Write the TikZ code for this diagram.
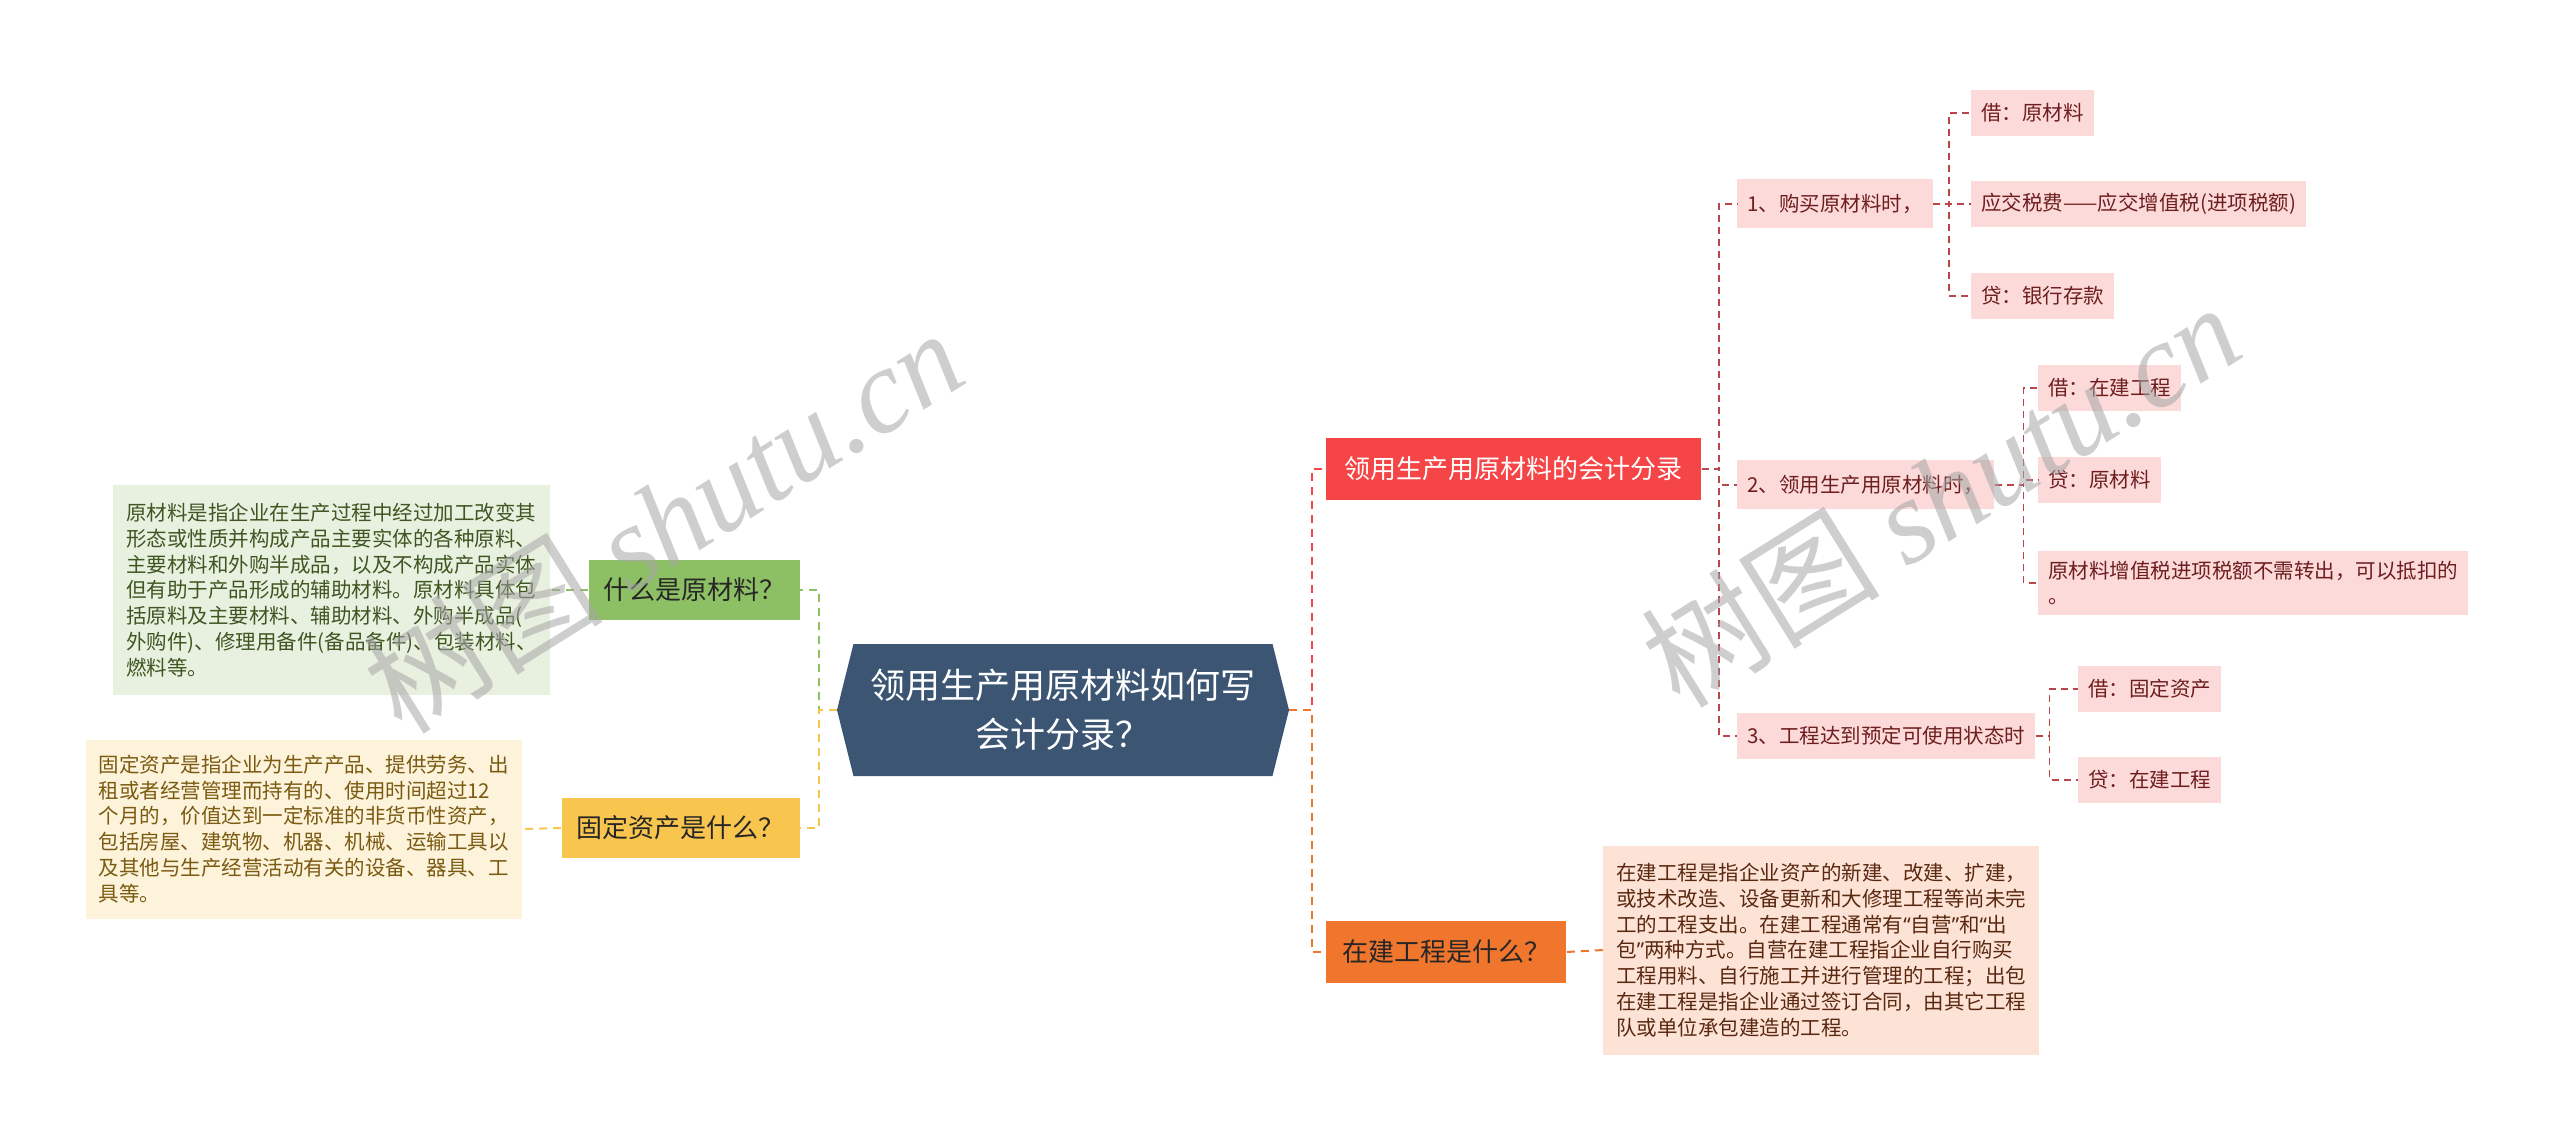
\documentclass[tikz,border=0pt]{standalone}
\usepackage{fontspec}
\setmainfont{Noto Sans CJK SC}
\newfontfamily\wmfont{Liberation Serif}
\newfontfamily\quotefont{Noto Sans}
\usetikzlibrary{shapes.symbols}

\definecolor{rootblue}{HTML}{3B5573}
\definecolor{qgreen}{HTML}{8DBF64}
\definecolor{dgreen}{HTML}{E8F1E0}
\definecolor{tgreen}{HTML}{3F5622}
\definecolor{qyellow}{HTML}{F8C64E}
\definecolor{dyellow}{HTML}{FDF3DB}
\definecolor{tyellow}{HTML}{7A5A10}
\definecolor{qred}{HTML}{F54546}
\definecolor{qorange}{HTML}{F0752D}
\definecolor{dorange}{HTML}{FCE3D6}
\definecolor{torange}{HTML}{5A2810}
\definecolor{pinkbox}{HTML}{FCDADA}
\definecolor{tpink}{HTML}{6E1E1E}
\definecolor{lkred}{HTML}{B8464B}

\tikzset{
	qbox/.style={inner xsep=7pt, inner ysep=0pt, minimum height=30pt, font=\fontsize{13pt}{16pt}\selectfont},
	descbox/.style={inner xsep=6.5pt, inner ysep=6pt, align=left, font=\fontsize{10.25pt}{12.9pt}\selectfont},
	pinkbox/.style={fill=pinkbox, text=tpink, inner xsep=5pt, inner ysep=0pt, minimum height=23pt, align=left, font=\fontsize{10.25pt}{12.9pt}\selectfont},
	lk/.style={line width=1pt, dash pattern=on 4pt off 3pt},
	sublk/.style={lkred, line width=0.75pt, dash pattern=on 3.5pt off 2.5pt},
	wmark/.style={rotate=32, text=black!35, opacity=0.55, font=\fontsize{60pt}{60pt}\selectfont}
}

\begin{document}
\begin{tikzpicture}[x=0.5pt, y=-0.5pt]
			%%%%% START %%%%%
			\useasboundingbox[fill=white] (0, 0) rectangle (2560, 1144);
			
			\node[shape=signal, signal to=west and east, signal pointer angle=152, fill=rootblue, text=white, minimum width=226pt, minimum height=66pt, inner sep=0pt, align=center, font=\fontsize{17.5pt}{24.5pt}\selectfont] (root) at (1063, 710) {领用生产用原材料如何写\\会计分录？};
			
			% left side
			\node[qbox, fill=qgreen, text=black!85, minimum width=105.5pt, anchor=east] (whatq) at (800, 590) {什么是原材料？};
			\node[descbox, fill=dgreen, text=tgreen, anchor=east, minimum height=104.5pt] (whatd) at (550, 590) {原材料是指企业在生产过程中经过加工改变其\\形态或性质并构成产品主要实体的各种原料、\\主要材料和外购半成品，以及不构成产品实体\\但有助于产品形成的辅助材料。原材料具体包\\括原料及主要材料、辅助材料、外购半成品(\\外购件)、修理用备件(备品备件)、包装材料、\\燃料等。};
			
			\node[qbox, fill=qyellow, text=black!85, minimum width=119pt, anchor=east] (fixq) at (800, 828) {固定资产是什么？};
			\node[descbox, fill=dyellow, text=tyellow, anchor=east, minimum height=89.5pt] (fixd) at (522, 829) {固定资产是指企业为生产产品、提供劳务、出\\租或者经营管理而持有的、使用时间超过12\\个月的，价值达到一定标准的非货币性资产，\\包括房屋、建筑物、机器、机械、运输工具以\\及其他与生产经营活动有关的设备、器具、工\\具等。};
			
			\draw[lk, qgreen] (root.west) -- ++(-9pt, 0) |- (whatq.east);
			\draw[lk, qyellow] (root.west) -- ++(-9pt, 0) |- (fixq.east);
			\draw[lk, qgreen] (whatq.west) -- (whatd.east);
			\draw[lk, qyellow] (fixq.west) -- (fixd.east);
			
			% right side
			\node[qbox, fill=qred, text=white, minimum width=187.5pt, minimum height=31pt, anchor=west] (entry) at (1326, 469) {领用生产用原材料的会计分录};
			\node[qbox, fill=qorange, text=black!85, minimum width=120pt, minimum height=31pt, anchor=west] (cipq) at (1326, 952) {在建工程是什么？};
			\node[descbox, fill=dorange, text=torange, anchor=west, minimum height=104.5pt] (cipd) at (1603, 950) {在建工程是指企业资产的新建、改建、扩建，\\或技术改造、设备更新和大修理工程等尚未完\\工的工程支出。在建工程通常有{\quotefont “}自营{\quotefont ”}和{\quotefont “}出\\包{\quotefont ”}两种方式。自营在建工程指企业自行购买\\工程用料、自行施工并进行管理的工程；出包\\在建工程是指企业通过签订合同，由其它工程\\队或单位承包建造的工程。};
			
			\draw[lk, qred] (root.east) -- ++(11.5pt, 0) |- (entry.west);
			\draw[lk, qorange] (root.east) -- ++(11.5pt, 0) |- (cipq.west);
			\draw[lk, qorange] (cipq.east) -- (cipd.west);
			
			\node[pinkbox, minimum height=24.5pt, anchor=west] (buy) at (1737, 204) {1、购买原材料时，};
			\node[pinkbox, minimum height=24.5pt, anchor=west] (use) at (1737, 485) {2、领用生产用原材料时，};
			\node[pinkbox, anchor=west] (done) at (1737, 736) {3、工程达到预定可使用状态时};
			
			\draw[sublk] (entry.east) -- ++(8.5pt, 0) |- (buy.west);
			\draw[sublk] (entry.east) -- ++(8.5pt, 0) |- (use.west);
			\draw[sublk] (entry.east) -- ++(8.5pt, 0) |- (done.west);
			
			\node[pinkbox, anchor=west] (buya) at (1971, 113) {借：原材料};
			\node[pinkbox, anchor=west] (buyb) at (1971, 204) {应交税费——应交增值税(进项税额)};
			\node[pinkbox, anchor=west] (buyc) at (1971, 296) {贷：银行存款};
			\foreach \n in {buya, buyb, buyc}
				\draw[sublk] (buy.east) -- ++(8pt, 0) |- (\n.west);
			
			\node[pinkbox, anchor=west] (usea) at (2038, 388) {借：在建工程};
			\node[pinkbox, anchor=west] (useb) at (2038, 480) {贷：原材料};
			\node[pinkbox, anchor=west, inner ysep=5pt] (usec) at (2038, 583) {原材料增值税进项税额不需转出，可以抵扣的\\。};
			\foreach \n in {usea, useb, usec}
				\draw[sublk] (use.east) -- ++(14.5pt, 0) |- (\n.west);
			
			\node[pinkbox, anchor=west] (donea) at (2078, 689) {借：固定资产};
			\node[pinkbox, anchor=west] (doneb) at (2078, 780) {贷：在建工程};
			\foreach \n in {donea, doneb}
				\draw[sublk] (done.east) -- ++(7pt, 0) |- (\n.west);
			
			% watermarks
			\node[wmark] (wmleft) at (663, 520) {树图 {\wmfont\itshape shutu.cn}};
			\node[wmark] (wmright) at (1940, 494) {树图 {\wmfont\itshape shutu.cn}};
			%%%%% END %%%%%
\end{tikzpicture}
\end{document}
